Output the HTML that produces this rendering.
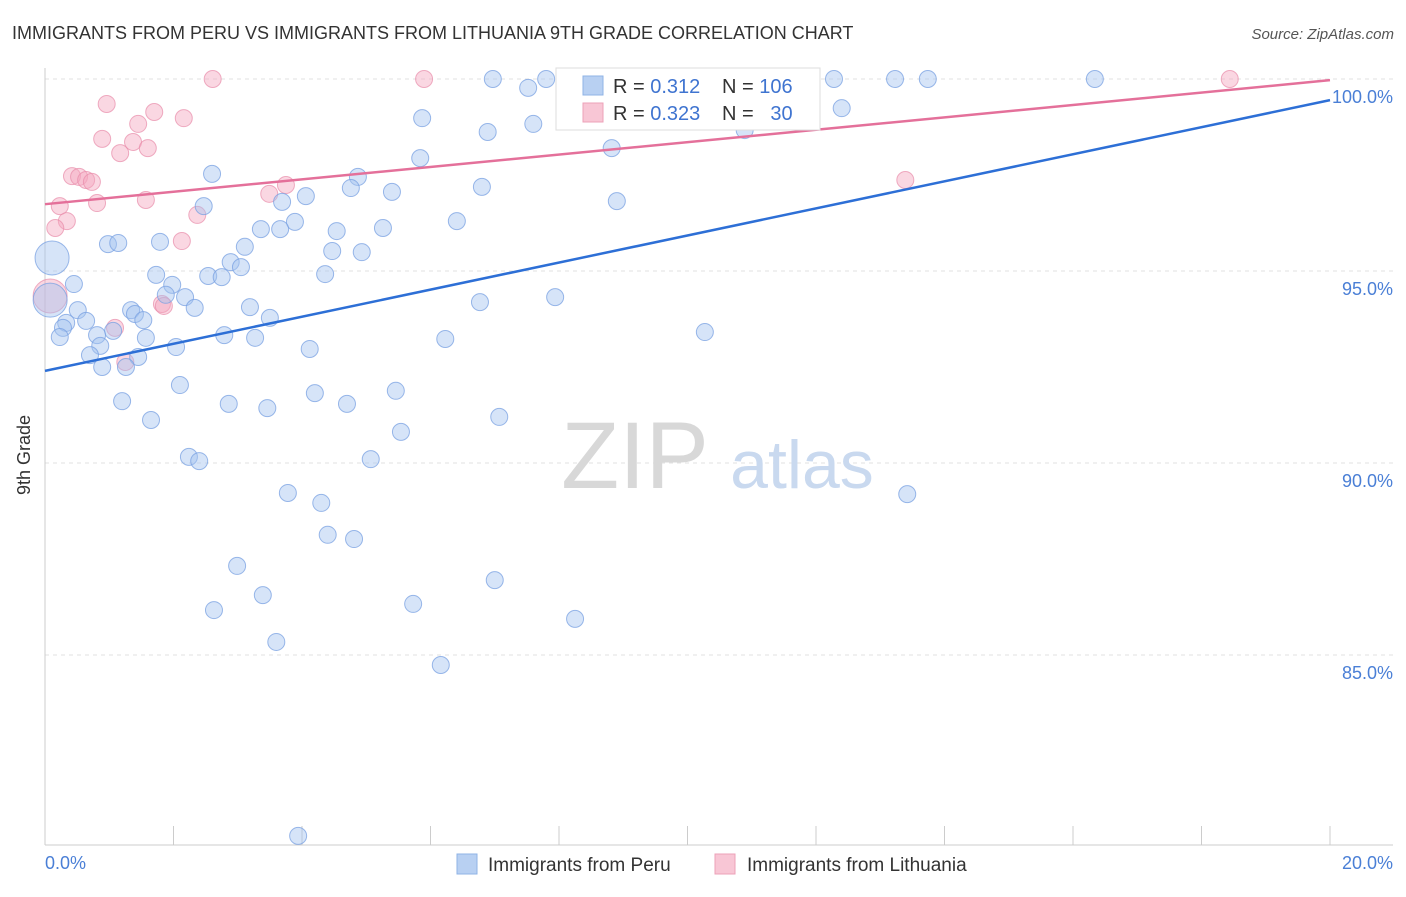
<!DOCTYPE html>
<html><head><meta charset="utf-8"><style>
body{margin:0;background:#fff;font-family:"Liberation Sans",sans-serif;}
svg text{font-family:"Liberation Sans",sans-serif;}
</style></head><body>
<svg id="chart" width="1406" height="892">
<text x="12" y="39" font-size="18" fill="#333">IMMIGRANTS FROM PERU VS IMMIGRANTS FROM LITHUANIA 9TH GRADE CORRELATION CHART</text>
<text x="1394" y="39" font-size="15" fill="#555" font-style="italic" text-anchor="end">Source: ZipAtlas.com</text>
<g id="grid"></g>
<text x="635" y="488" font-size="95" fill="#d8d8d8" font-family="Liberation Serif" text-anchor="middle">ZIP</text>
<text x="802" y="488" font-size="68" fill="#c9d9ef" text-anchor="middle">atlas</text>
<g id="pts"></g>
<g id="lines"></g>
<text x="30" y="455" font-size="18" fill="#333" transform="rotate(-90 30 455)" text-anchor="middle">9th Grade</text>
<g>
<rect x="556" y="68" width="264" height="62" fill="#fff" stroke="#ddd"/>
<rect x="583" y="76" width="20" height="19" fill="#b8d0f2" stroke="#8fb3e6"/>
<rect x="583" y="103" width="20" height="19" fill="#f8c6d5" stroke="#eda1b8"/>
<text x="613" y="93" font-size="20" fill="#333">R = <tspan fill="#3f74d0">0.312</tspan></text>
<text x="722" y="93" font-size="20" fill="#333">N = <tspan fill="#3f74d0">106</tspan></text>
<text x="613" y="120" font-size="20" fill="#333">R = <tspan fill="#3f74d0">0.323</tspan></text>
<text x="722" y="120" font-size="20" fill="#333">N = <tspan fill="#3f74d0">&#160;&#160;30</tspan></text>
</g>
<g>
<rect x="457" y="854" width="20" height="20" fill="#b8d0f2" stroke="#8fb3e6"/>
<text x="488" y="871" font-size="19" fill="#333">Immigrants from Peru</text>
<rect x="715" y="854" width="20" height="20" fill="#f8c6d5" stroke="#eda1b8"/>
<text x="747" y="871" font-size="19" fill="#333">Immigrants from Lithuania</text>
</g>
</svg>
<script>
const yTicks=[100,95,90,85];
const xTickVals=[0,2,4,6,8,10,12,14,16,18,20];
const xLabels=["0.0%","20.0%"];
const peruX=[6.97,7.80,7.52,9.51,12.28,13.23,13.74,16.34,12.40,5.87,6.89,7.60,10.89,8.82,5.84,2.60,4.87,6.80,4.76,5.40,4.06,2.47,3.69,8.90,6.41,3.89,3.36,3.66,5.26,4.54,0.98,1.14,1.79,3.11,4.47,4.93,0.11,2.89,3.05,1.73,4.36,2.54,2.75,0.45,1.98,0.08,2.18,7.94,6.77,1.88,1.34,2.33,3.19,0.51,1.40,1.53,3.50,0.64,0.33,0.28,1.06,0.23,0.81,2.79,3.27,1.57,2.04,0.86,4.12,6.23,10.27,0.70,1.45,0.89,1.26,2.10,5.46,4.20,1.20,2.86,4.70,3.46,7.07,1.65,5.54,2.24,2.40,5.07,3.78,4.30,13.42,4.40,4.81,2.99,7.00,3.39,2.63,5.73,8.25,3.60,6.16,3.94];
const peruY=[100,100,99.77,100,100,100,100,100,99.24,98.98,98.62,98.83,98.67,98.20,97.94,97.53,97.45,97.19,97.16,97.06,96.95,96.69,96.80,96.82,96.30,96.28,96.09,96.09,96.12,96.04,95.70,95.73,95.76,95.63,95.52,95.49,95.34,95.23,95.10,94.90,94.92,94.87,94.84,94.66,94.64,94.24,94.32,94.32,94.19,94.38,93.98,94.04,94.06,93.98,93.88,93.72,93.78,93.70,93.65,93.52,93.44,93.28,93.33,93.33,93.26,93.26,93.02,93.05,92.97,93.23,93.41,92.81,92.76,92.50,92.50,92.03,91.88,91.82,91.61,91.54,91.54,91.43,91.20,91.12,90.81,90.16,90.05,90.10,89.22,88.96,89.19,88.13,88.02,87.32,86.95,86.56,86.17,86.33,85.94,85.34,84.74,80.29];
const peruBig=[36,45];
const lithX=[2.61,5.90,18.44,0.96,1.70,2.16,1.45,0.89,1.37,1.60,1.17,0.42,0.53,0.64,0.73,3.75,3.49,1.57,0.81,0.23,0.34,0.16,2.37,2.13,13.39,0.08,1.82,1.85,1.09,1.25];
const lithY=[100,100,100,99.35,99.14,98.98,98.83,98.44,98.36,98.20,98.07,97.47,97.45,97.37,97.32,97.24,97.01,96.85,96.77,96.69,96.30,96.12,96.46,95.78,97.37,94.35,94.14,94.09,93.52,92.63];
const lithBig=[25];
const peruTrend=[92.40,99.45];
const lithTrend=[96.74,99.97];
const X0=45,X1=1330;
const sx=v=>X0+(v/20)*(X1-X0);
const sy=v=>79+(100-v)*38.4;
const NS="http://www.w3.org/2000/svg";
function mk(tag,attrs,parent){const e=document.createElementNS(NS,tag);for(const k in attrs)e.setAttribute(k,attrs[k]);parent.appendChild(e);return e;}
const grid=document.getElementById('grid');
yTicks.forEach(t=>{
 const l=mk('line',{x1:X0,x2:1393,y1:sy(t),y2:sy(t),stroke:'#e2e2e2','stroke-dasharray':'4,4'},grid);
 
 
 const tx=mk('text',{x:1393,y:sy(t)+24,'font-size':18,fill:'#4a7fd6','text-anchor':'end'},grid);
 tx.textContent=t.toFixed(1)+'%';
 
 
});
const ax=mk('line',{x1:X0,x2:X0,y1:68,y2:845,stroke:'#ccc'},grid);


const bx=mk('line',{x1:X0,x2:1393,y1:845,y2:845,stroke:'#ccc'},grid);


xTickVals.forEach(v=>{
 const t=mk('line',{x1:sx(v),x2:sx(v),y1:826,y2:845,stroke:'#ccc'},grid);
 
 
});
const xl0=mk('text',{x:45,y:869,'font-size':18,fill:'#4a7fd6'},grid);
xl0.textContent=xLabels[0];


const xl1=mk('text',{x:1393,y:869,'font-size':18,fill:'#4a7fd6','text-anchor':'end'},grid);
xl1.textContent=xLabels[1];


const pts=document.getElementById('pts');
lithX.forEach((x,i)=>{
 const c=mk('circle',{cx:sx(x),cy:sy(lithY[i]),r:lithBig.includes(i)?17:8.5,fill:'rgba(244,167,191,0.45)',stroke:'rgba(232,140,170,0.7)','stroke-width':1},pts);
 
 
});
peruX.forEach((x,i)=>{
 const c=mk('circle',{cx:sx(x),cy:sy(peruY[i]),r:peruBig.includes(i)?17:8.5,fill:'rgba(164,196,240,0.45)',stroke:'rgba(120,160,225,0.75)','stroke-width':1},pts);
 
 
});
const lines=document.getElementById('lines');
const lp=mk('line',{x1:sx(0),x2:sx(20),y1:sy(lithTrend[0]),y2:sy(lithTrend[1]),stroke:'#e4709a','stroke-width':2.5},lines);


const bp=mk('line',{x1:sx(0),x2:sx(20),y1:sy(peruTrend[0]),y2:sy(peruTrend[1]),stroke:'#2d6fd6','stroke-width':2.5},lines);


</script>
</body></html>
